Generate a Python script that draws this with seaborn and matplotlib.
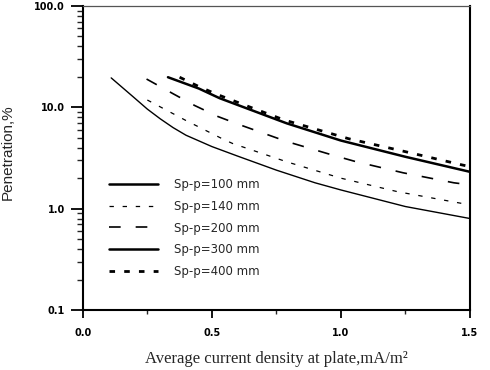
import numpy as np
import pandas as pd
import matplotlib
matplotlib.use("Agg")
import matplotlib.pyplot as plt
from matplotlib.ticker import FixedLocator, LogLocator, NullFormatter, FixedFormatter
import seaborn as sns

# ---- data ----
labels = ["Sp-p=100 mm", "Sp-p=140 mm", "Sp-p=200 mm", "Sp-p=300 mm", "Sp-p=400 mm"]

x100 = [0.11, 0.195, 0.25, 0.3, 0.35, 0.4, 0.5, 0.6, 0.75, 0.9, 1.0, 1.25, 1.5]
y100 = [19.5, 12.7, 9.6, 7.7, 6.3, 5.3, 4.1, 3.3, 2.4, 1.8, 1.53, 1.05, 0.80]

x140 = [0.25, 0.4, 0.54, 0.58, 0.79, 1.0, 1.22, 1.5]
y140 = [11.8, 7.4, 4.9, 4.4, 2.9, 2.0, 1.47, 1.09]

x200 = [0.247, 0.35, 0.434, 0.524, 0.61, 0.79, 0.964, 1.054, 1.241, 1.438, 1.5]
y200 = [19.0, 13.6, 10.4, 8.1, 6.7, 4.6, 3.4, 2.93, 2.26, 1.80, 1.72]

x300 = [0.33, 0.45, 0.53, 0.79, 1.0, 1.25, 1.5]
y300 = [19.8, 15.3, 12.3, 6.95, 4.7, 3.25, 2.31]

x400 = [0.375, 0.45, 0.52, 0.65, 0.78, 1.03, 1.25, 1.47, 1.5]
y400 = [19.8, 16.0, 13.4, 10.0, 7.5, 4.9, 3.65, 2.7, 2.6]

xs = [x100, x140, x200, x300, x400]
ys = [y100, y140, y200, y300, y400]

xticks = [0.0, 0.5, 1.0, 1.5]
xtick_labels = ["0.0", "0.5", "1.0", "1.5"]
yticks = [0.1, 1.0, 10.0, 100.0]
ytick_labels = ["0.1", "1.0", "10.0", "100.0"]

# ---- styles ----
lws = [1.0, 0.9, 1.2, 1.8, 2.0]
dash_patterns = [None, (3.5, 7.0), (7.0, 9.0), None, (2.0, 3.3)]

sns.set_style("ticks")
plt.rcParams["font.family"] = ["Liberation Sans", "DejaVu Sans"]

fig = plt.figure(figsize=(4.9, 3.7), dpi=100)
ax = fig.add_axes([0.169, 0.162, 0.790, 0.822])

for xv, yv, lab, lw, dp in zip(xs, ys, labels, lws, dash_patterns):
    df = pd.DataFrame({"x": xv, "y": yv})
    sns.lineplot(data=df, x="x", y="y", ax=ax, color="black", linewidth=lw,
                 estimator=None, sort=False, label=lab)
    line = ax.lines[-1]
    if dp is not None:
        line.set_dashes(dp)
        line.set_dash_capstyle("butt")

ax.set_yscale("log")
ax.set_xlim(0.0, 1.5)
ax.set_ylim(0.1, 100.0)

ax.xaxis.set_major_locator(FixedLocator(xticks))
ax.xaxis.set_major_formatter(FixedFormatter(xtick_labels))
ax.xaxis.set_minor_locator(FixedLocator([0.25, 0.75, 1.25]))
ax.yaxis.set_major_locator(FixedLocator(yticks))
ax.yaxis.set_major_formatter(FixedFormatter(ytick_labels))
ax.yaxis.set_minor_locator(LogLocator(base=10, subs=np.arange(2, 10)))
ax.yaxis.set_minor_formatter(NullFormatter())

ax.tick_params(axis="both", which="major", direction="out", width=1.3,
               labelsize=7, colors="black")
ax.tick_params(axis="y", which="major", length=9, pad=4)
ax.tick_params(axis="y", which="minor", length=4.5, width=1.0, direction="out")
ax.tick_params(axis="x", which="major", length=6, pad=7)
ax.tick_params(axis="x", which="minor", length=3, width=1.0, direction="out")
for t in ax.get_xticklabels() + ax.get_yticklabels():
    t.set_fontweight("bold")
    t.set_family(["DejaVu Sans"])

for side in ["left", "right", "bottom"]:
    ax.spines[side].set_linewidth(1.5)
    ax.spines[side].set_color("black")
ax.spines["top"].set_linewidth(0.9)
ax.spines["top"].set_color("#555555")
ax.spines["right"].set_visible(True)
ax.spines["top"].set_visible(True)

ax.set_xlabel("Average current density at plate,mA/m²",
              family=["Liberation Serif", "DejaVu Serif"], fontsize=12)
ax.xaxis.set_label_coords(0.5, -0.135)
ax.set_ylabel("Penetration,%", fontsize=11)
ax.yaxis.set_label_coords(-0.175, 0.52)

handles = ax.get_lines()
leg = ax.legend(handles=handles, labels=labels, loc="upper left",
                bbox_to_anchor=(0.056, 0.45), frameon=False,
                prop={"family": ["DejaVu Sans"], "size": 8.5},
                handlelength=4.15, handletextpad=1.35, labelspacing=0.75,
                borderaxespad=0)
leg.get_lines()[0].set_linewidth(1.8)

fig.savefig("out.png", dpi=100)
